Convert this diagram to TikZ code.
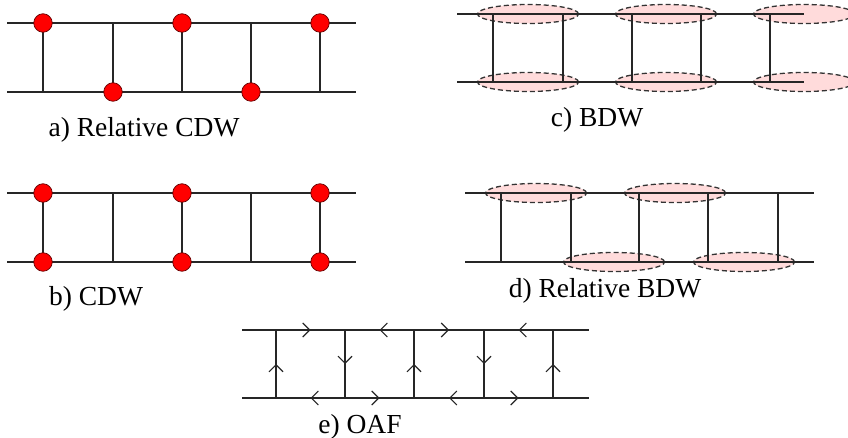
\documentclass[tikz,border=0pt]{standalone}
\usepackage{fontspec}
\setmainfont{Liberation Serif}
\usetikzlibrary{arrows.meta,decorations.markings,shapes.geometric}
\begin{document}
\begin{tikzpicture}[x=1pt,y=-1pt,
  rail/.style={line width=1.2pt, draw=black!85},
  dot/.style={circle, fill=red, draw=red!40!black, line width=0.7pt, minimum size=18.5pt, inner sep=0pt},
  bond/.style={ellipse, draw=black!80, fill=red!14, dash pattern=on 5pt off 3pt, line width=1.3pt, minimum width=101pt, minimum height=19pt, inner sep=0pt},
  lbl/.style={anchor=base, font=\rmfamily\fontsize{27.5}{30}\selectfont, text=black},
  midarrow/.style={postaction={decorate}, decoration={markings, mark=at position 0.5 with {\arrow[line width=1.1pt]{Straight Barb[length=7pt,width=14pt]}}}}
]
\useasboundingbox (0,0) rectangle (848,438);
\clip (0,0) rectangle (848,438);

% ---------- a) Relative CDW ----------
\foreach \i/\x in {1/43,2/113,3/182,4/251,5/320}{
  \coordinate (at\i) at (\x,23); \coordinate (ab\i) at (\x,92);}
\coordinate (atL) at (7,23); \coordinate (atR) at (356,23);
\coordinate (abL) at (7,92); \coordinate (abR) at (356,92);
\draw[rail] (atL) -- (atR);
\draw[rail] (abL) -- (abR);
\foreach \i in {1,...,5} \draw[rail] (at\i) -- (ab\i);
\node[dot] (ad1) at (at1) {};
\node[dot] (ad2) at (ab2) {};
\node[dot] (ad3) at (at3) {};
\node[dot] (ad4) at (ab4) {};
\node[dot] (ad5) at (at5) {};
\node[lbl] (la) at (144,137) {a) Relative CDW};

% ---------- b) CDW ----------
\foreach \i/\x in {1/43,2/113,3/182,4/251,5/320}{
  \coordinate (bt\i) at (\x,193); \coordinate (bb\i) at (\x,262);}
\coordinate (btL) at (7,193); \coordinate (btR) at (356,193);
\coordinate (bbL) at (7,262); \coordinate (bbR) at (356,262);
\draw[rail] (btL) -- (btR);
\draw[rail] (bbL) -- (bbR);
\foreach \i in {1,...,5} \draw[rail] (bt\i) -- (bb\i);
\foreach \i in {1,3,5}{
  \node[dot] (bdt\i) at (bt\i) {};
  \node[dot] (bdb\i) at (bb\i) {};}
\node[lbl] (lb) at (96,305) {b) CDW};

% ---------- c) BDW ----------
\foreach \i/\x in {1/528,2/666,3/804}{
  \node[bond] (cet\i) at (\x,14) {};
  \node[bond] (ceb\i) at (\x,82) {};}
\foreach \i/\x in {1/493,2/563,3/632,4/701,5/770}{
  \coordinate (ct\i) at (\x,14); \coordinate (cb\i) at (\x,82);}
\coordinate (ctL) at (457,14); \coordinate (ctR) at (804,14);
\coordinate (cbL) at (457,82); \coordinate (cbR) at (804,82);
\draw[rail] (ctL) -- (ctR);
\draw[rail] (cbL) -- (cbR);
\foreach \i in {1,...,5} \draw[rail] (ct\i) -- (cb\i);
\node[lbl] (lc) at (597,127) {c) BDW};

% ---------- d) Relative BDW ----------
\node[bond] (det1) at (536,193) {};
\node[bond] (det2) at (675,193) {};
\node[bond] (deb1) at (614,262) {};
\node[bond] (deb2) at (744,262) {};
\foreach \i/\x in {1/501,2/571,3/639,4/708,5/778}{
  \coordinate (dt\i) at (\x,193); \coordinate (db\i) at (\x,262);}
\coordinate (dtL) at (465,193); \coordinate (dtR) at (814,193);
\coordinate (dbL) at (465,262); \coordinate (dbR) at (814,262);
\draw[rail] (dtL) -- (dtR);
\draw[rail] (dbL) -- (dbR);
\foreach \i in {1,...,5} \draw[rail] (dt\i) -- (db\i);
\node[lbl] (ld) at (605,298) {d) Relative BDW};

% ---------- e) OAF ----------
\foreach \i/\x in {1/276,2/345,3/414,4/484,5/553}{
  \coordinate (et\i) at (\x,330); \coordinate (eb\i) at (\x,398);}
\coordinate (etL) at (242,330); \coordinate (etR) at (589,330);
\coordinate (ebL) at (242,398); \coordinate (ebR) at (589,398);
\draw[rail] (etL) -- (et1);
\draw[rail] (et5) -- (etR);
\draw[rail] (ebL) -- (eb1);
\draw[rail] (eb5) -- (ebR);
% top line
\draw[rail,midarrow] (et1) -- (et2);
\draw[rail,midarrow] (et3) -- (et2);
\draw[rail,midarrow] (et3) -- (et4);
\draw[rail,midarrow] (et5) -- (et4);
% bottom line
\draw[rail,midarrow] (eb2) -- (eb1);
\draw[rail,midarrow] (eb2) -- (eb3);
\draw[rail,midarrow] (eb4) -- (eb3);
\draw[rail,midarrow] (eb4) -- (eb5);
% rungs
\draw[rail,midarrow] (eb1) -- (et1);
\draw[rail,midarrow] (et2) -- (eb2);
\draw[rail,midarrow] (eb3) -- (et3);
\draw[rail,midarrow] (et4) -- (eb4);
\draw[rail,midarrow] (eb5) -- (et5);
\node[lbl] (le) at (360,433) {e) OAF};
\end{tikzpicture}
\end{document}
